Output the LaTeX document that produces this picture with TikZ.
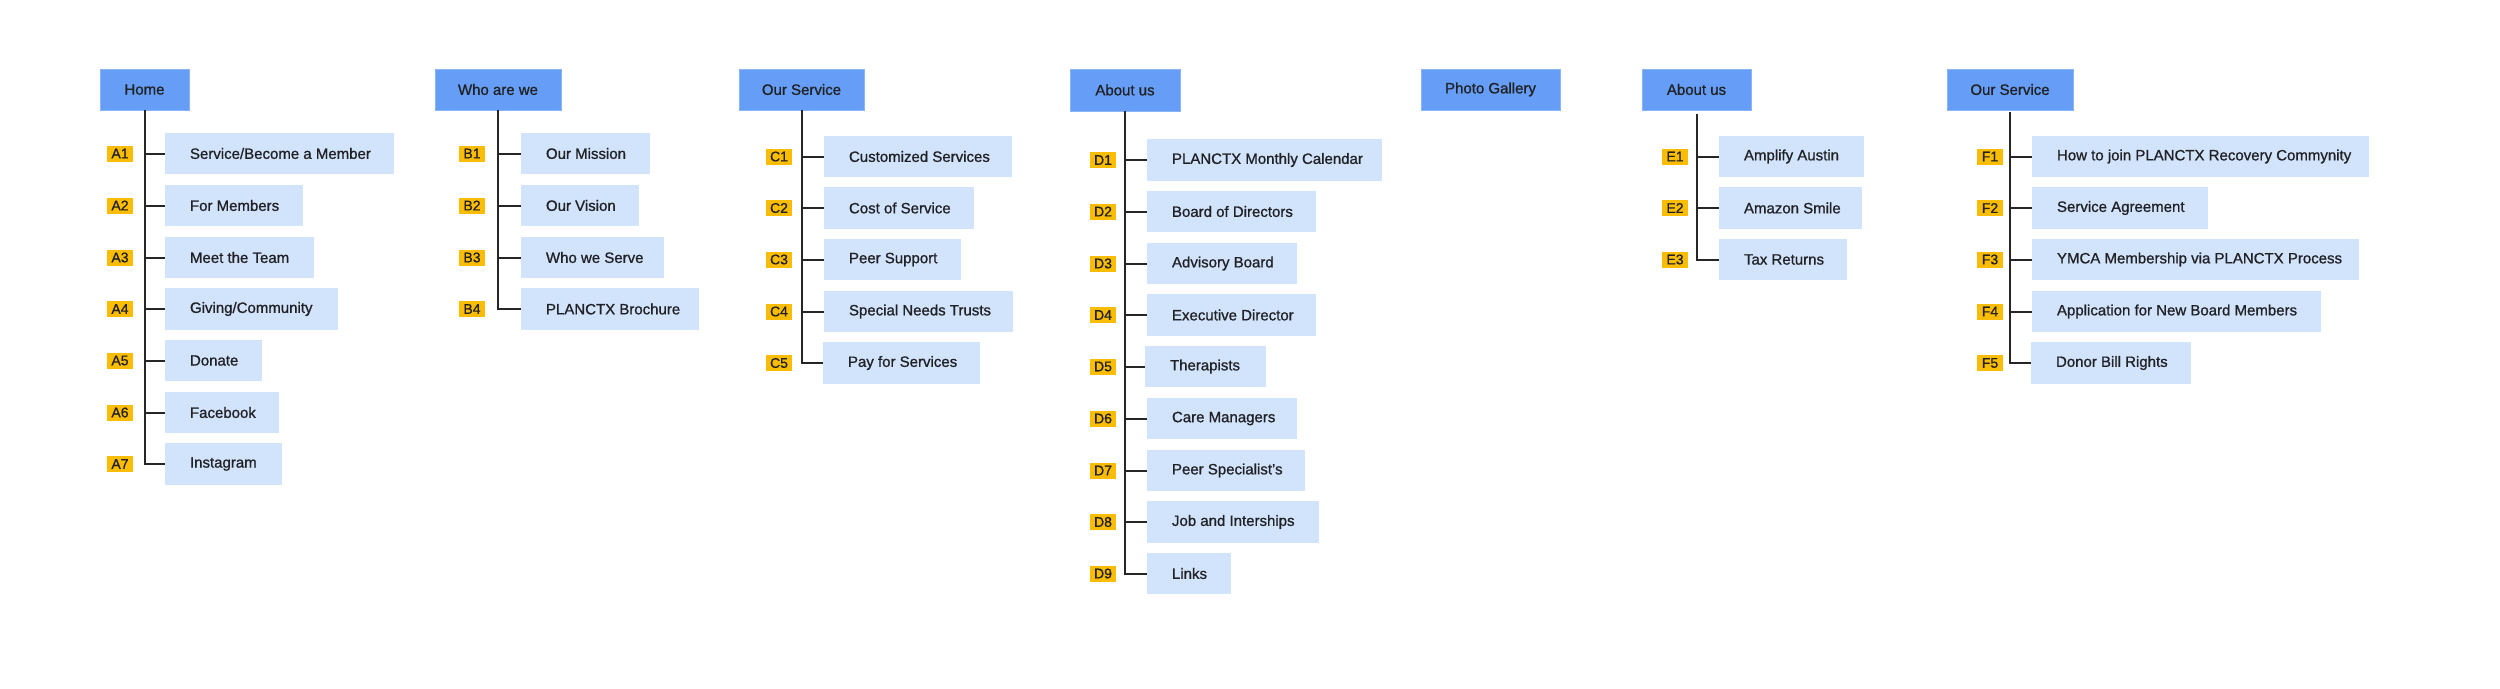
\documentclass[tikz,border=0pt]{standalone}
\usepackage{fontspec}
\setmainfont{Liberation Sans}[FakeBold=0.9]
\definecolor{headfill}{HTML}{669DF6}
\definecolor{headline}{HTML}{8AB4F8}
\definecolor{kidfill}{HTML}{D2E3FC}
\definecolor{tagfill}{HTML}{FBBC04}
\definecolor{ink}{HTML}{202124}
\definecolor{linec}{HTML}{262626}
\tikzset{
  headbox/.style={draw=headline, line width=1pt, fill=headfill, inner sep=0pt, outer sep=0pt,
    text=ink, font=\fontsize{15}{18}\selectfont},
  kidbox/.style={fill=kidfill, inner xsep=25pt, inner ysep=0pt, outer sep=0pt,
    text=ink, font=\fontsize{15}{18}\selectfont},
  tagbox/.style={fill=tagfill, inner sep=0pt, minimum width=26pt, minimum height=16pt,
    text=ink, font=\fontsize{14}{16}\selectfont},
  conn/.style={draw=linec, line width=2pt}
}
\newcommand\headnode[6]{%
  \pgfmathsetmacro\hw{#4-#2}\pgfmathsetmacro\hh{#5-#3}%
  \node[headbox, minimum width=\hw pt, minimum height=\hh pt, anchor=north west] (#1) at (#2,#3) {#6};}
\newcommand\kid[6]{%
  \pgfmathsetmacro\kw{#4-#2-50}\pgfmathsetmacro\kh{#5-#3}%
  \node[kidbox, minimum height=\kh pt, anchor=north west] (#1) at (#2,#3) {\makebox[\kw pt][l]{#6}};}
\newcommand\tagnode[3]{\node[tagbox] (t#1) at (#1.west -| #2,0) {#3};}
\begin{document}
\begin{tikzpicture}[x=1pt,y=-1pt]
\useasboundingbox (0,0) rectangle (2500,688);
\fill[white] (0,0) rectangle (2500,688);

% Column A
\headnode{home}{100}{69}{189}{110}{Home}
\kid{a1}{165}{133}{394}{174}{Service/Become a Member}
\kid{a2}{165}{185}{303}{226}{For Members}
\kid{a3}{165}{237}{314}{278}{Meet the Team}
\kid{a4}{165}{288}{338}{330}{Giving/Community}
\kid{a5}{165}{340}{262}{381}{Donate}
\kid{a6}{165}{392}{279}{433}{Facebook}
\kid{a7}{165}{443}{282}{485}{Instagram}
\tagnode{a1}{120}{A1}\tagnode{a2}{120}{A2}\tagnode{a3}{120}{A3}\tagnode{a4}{120}{A4}
\tagnode{a5}{120}{A5}\tagnode{a6}{120}{A6}\tagnode{a7}{120}{A7}
\draw[conn] (home.south) |- (a7.west);
\foreach \k in {a1,a2,a3,a4,a5,a6} \draw[conn] (home.south |- \k.west) -- (\k.west);

% Column B
\headnode{who}{435}{69}{561}{110}{Who are we}
\kid{b1}{521}{133}{650}{174}{Our Mission}
\kid{b2}{521}{185}{639}{226}{Our Vision}
\kid{b3}{521}{237}{664}{278}{Who we Serve}
\kid{b4}{521}{288}{699}{330}{PLANCTX Brochure}
\tagnode{b1}{472}{B1}\tagnode{b2}{472}{B2}\tagnode{b3}{472}{B3}\tagnode{b4}{472}{B4}
\draw[conn] (who.south) |- (b4.west);
\foreach \k in {b1,b2,b3} \draw[conn] (who.south |- \k.west) -- (\k.west);

% Column C
\headnode{servc}{739}{69}{864}{110}{Our Service}
\kid{c1}{824}{136}{1012}{177}{Customized Services}
\kid{c2}{824}{187}{974}{229}{Cost of Service}
\kid{c3}{824}{239}{961}{280}{Peer Support}
\kid{c4}{824}{291}{1013}{332}{Special Needs Trusts}
\kid{c5}{823}{342}{980}{384}{Pay for Services}
\tagnode{c1}{779}{C1}\tagnode{c2}{779}{C2}\tagnode{c3}{779}{C3}\tagnode{c4}{779}{C4}\tagnode{c5}{779}{C5}
\draw[conn] (servc.south) |- (c5.west);
\foreach \k in {c1,c2,c3,c4} \draw[conn] (servc.south |- \k.west) -- (\k.west);

% Column D
\headnode{aboutd}{1070}{69}{1180}{111}{About us}
\kid{d1}{1147}{139}{1382}{181}{PLANCTX Monthly Calendar}
\kid{d2}{1147}{191}{1316}{232}{Board of Directors}
\kid{d3}{1147}{243}{1297}{284}{Advisory Board}
\kid{d4}{1147}{294}{1316}{336}{Executive Director}
\kid{d5}{1145}{346}{1266}{387}{Therapists}
\kid{d6}{1147}{398}{1297}{439}{Care Managers}
\kid{d7}{1147}{450}{1305}{491}{Peer Specialist’s}
\kid{d8}{1147}{501}{1319}{543}{Job and Interships}
\kid{d9}{1147}{553}{1231}{594}{Links}
\tagnode{d1}{1103}{D1}\tagnode{d2}{1103}{D2}\tagnode{d3}{1103}{D3}\tagnode{d4}{1103}{D4}
\tagnode{d5}{1103}{D5}\tagnode{d6}{1103}{D6}\tagnode{d7}{1103}{D7}\tagnode{d8}{1103}{D8}
\tagnode{d9}{1103}{D9}
\draw[conn] (aboutd.south) |- (d9.west);
\foreach \k in {d1,d2,d3,d4,d5,d6,d7,d8} \draw[conn] (aboutd.south |- \k.west) -- (\k.west);

% Photo Gallery
\headnode{photo}{1421}{69}{1560}{110}{Photo Gallery}

% Column E
\headnode{aboute}{1642}{69}{1751}{110}{About us}
\kid{e1}{1719}{136}{1864}{177}{Amplify Austin}
\kid{e2}{1719}{187}{1862}{229}{Amazon Smile}
\kid{e3}{1719}{239}{1847}{280}{Tax Returns}
\tagnode{e1}{1675}{E1}\tagnode{e2}{1675}{E2}\tagnode{e3}{1675}{E3}
\draw[conn] ([yshift=-4pt]aboute.south) |- (e3.west);
\foreach \k in {e1,e2} \draw[conn] (aboute.south |- \k.west) -- (\k.west);

% Column F
\headnode{servf}{1947}{69}{2073}{110}{Our Service}
\kid{f1}{2032}{136}{2369}{177}{How to join PLANCTX Recovery Commynity}
\kid{f2}{2032}{187}{2208}{229}{Service Agreement}
\kid{f3}{2032}{239}{2359}{280}{YMCA Membership via PLANCTX Process}
\kid{f4}{2032}{291}{2321}{332}{Application for New Board Members}
\kid{f5}{2031}{342}{2191}{384}{Donor Bill Rights}
\tagnode{f1}{1990}{F1}\tagnode{f2}{1990}{F2}\tagnode{f3}{1990}{F3}\tagnode{f4}{1990}{F4}\tagnode{f5}{1990}{F5}
\draw[conn] ([yshift=-2pt]servf.south) |- (f5.west);
\foreach \k in {f1,f2,f3,f4} \draw[conn] (servf.south |- \k.west) -- (\k.west);
\end{tikzpicture}
\end{document}
